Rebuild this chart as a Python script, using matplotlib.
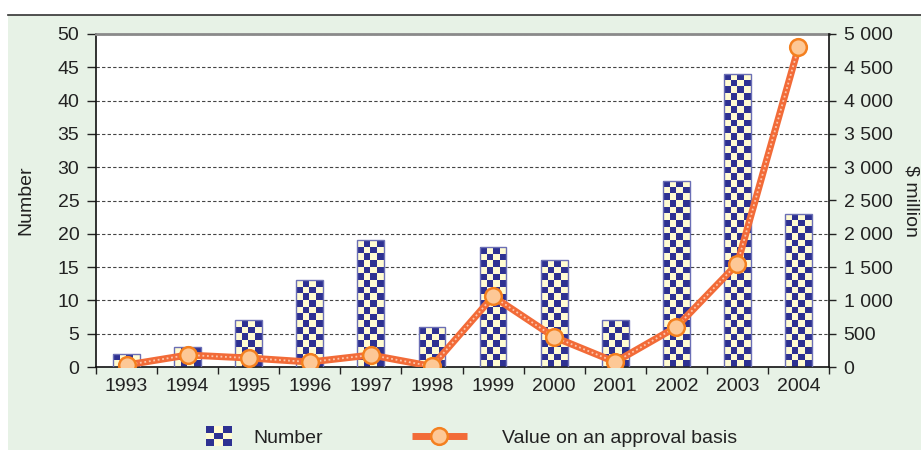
import numpy as np
import matplotlib
matplotlib.use("Agg")
import matplotlib.pyplot as plt
import matplotlib.patches as mpatches
from matplotlib.colors import ListedColormap
from matplotlib.lines import Line2D
from matplotlib.legend_handler import HandlerBase
from matplotlib.ticker import FuncFormatter

plt.rcParams['font.family'] = ['Liberation Sans', 'DejaVu Sans']

years = ['1993', '1994', '1995', '1996', '1997', '1998', '1999', '2000',
         '2001', '2002', '2003', '2004']
number = [2, 3, 7, 13, 19, 6, 18, 16, 7, 28, 44, 23]
value = [30, 180, 135, 75, 180, 10, 1060, 450, 75, 600, 1550, 4800]

NAVY = '#2e3192'
CREAM = '#fffbd2'
GREEN = '#e7f2e6'
ORANGE = '#f26b38'
TXT = '#222222'
FS = 14
PX = 0.72  # points per pixel at dpi 100
checker_cmap = ListedColormap([CREAM, NAVY])


class HandlerChecker(HandlerBase):
    # small 3x3 checkerboard swatch for the bars
    def create_artists(self, legend, orig_handle, xdescent, ydescent,
                       width, height, fontsize, trans):
        n = 3
        cw, ch = 26 * PX / n, 20 * PX / n
        x0 = -xdescent + 42 * PX
        y0 = height / 2 - ch * n / 2 - ydescent
        arts = []
        for i in range(n):
            for j in range(n):
                c = NAVY if (i + j) % 2 == 0 else CREAM
                arts.append(mpatches.Rectangle((x0 + i * cw, y0 + j * ch), cw, ch,
                                               facecolor=c, edgecolor='none',
                                               transform=trans))
        return arts


fig = plt.figure(figsize=(9.21, 4.5), dpi=100)
fig.patches.append(mpatches.Rectangle((8 / 921, 0), 1, (450 - 15) / 450,
                                      transform=fig.transFigure,
                                      facecolor=GREEN, edgecolor='none', zorder=-10))
fig.lines.append(Line2D([8 / 921, 1], [(450 - 15) / 450] * 2,
                        transform=fig.transFigure, color='#333333', lw=1.2, zorder=-9))

ax = fig.add_axes([96 / 921, 83 / 450, (829 - 96) / 921, (367 - 34) / 450])
ax.set_facecolor('white')
x = np.arange(len(years))
bars = ax.bar(x, number, width=0.44, color='none', edgecolor='#6b6fb5',
              linewidth=1.0, zorder=3)

# checkerboard fill inside each bar
for b in bars:
    rows = int(np.ceil(b.get_height()))
    cols = 4
    grid = (np.add.outer(np.arange(rows), np.arange(cols)) % 2)[::-1]
    im = ax.imshow(grid, cmap=checker_cmap, interpolation='nearest', aspect='auto',
                   extent=(b.get_x(), b.get_x() + b.get_width(), 0, rows),
                   zorder=2)
    im.set_clip_path(b)

ax.set_xlim(-0.5, len(years) - 0.5)
ax.set_ylim(0, 50)
ax.set_yticks(range(0, 51, 5))
ax.set_xticks(x)
ax.set_xticklabels(years)
ax.set_xticks(np.arange(-0.5, len(years)), minor=True)
ax.tick_params(axis='x', which='major', length=0, pad=8, labelsize=FS, colors=TXT)
ax.tick_params(axis='x', which='minor', length=5, width=1, color=TXT)
ax.tick_params(axis='y', length=6.5, width=1, labelsize=FS, pad=5.5, colors=TXT)
ax.yaxis.grid(True, linestyle=(0, (3, 2)), color='#444444', lw=0.8, zorder=1)
ax.set_axisbelow(True)
for s in ['left', 'bottom']:
    ax.spines[s].set_color('#111111')
    ax.spines[s].set_linewidth(1.2)
ax.spines['top'].set_color('#8a8a8a')
ax.spines['top'].set_linewidth(2)
ax.spines['right'].set_visible(False)
ax.set_ylabel('Number', fontsize=FS, color=TXT)
ax.yaxis.set_label_coords((34 - 96) / 733, 0.5)

ax2 = ax.twinx()
ax2.set_ylim(0, 5000)
ax2.set_yticks(range(0, 5001, 500))
ax2.yaxis.set_major_formatter(FuncFormatter(lambda v, p: f'{int(v):,}'.replace(',', ' ')))
ax2.tick_params(axis='y', length=5, width=1, labelsize=FS, pad=5.5, colors=TXT)
for s in ['left', 'bottom', 'top']:
    ax2.spines[s].set_visible(False)
ax2.spines['right'].set_color('#111111')
ax2.spines['right'].set_linewidth(1.2)
ax2.plot(x, value, color=ORANGE, lw=5, solid_capstyle='round', zorder=3)
ax2.plot(x, value, color='#fcc7ad', lw=1.3, linestyle=(0, (1, 1.5)), zorder=4)
ax2.plot(x, value, linestyle='none', marker='o', markersize=12,
         markerfacecolor='#fdc896', markeredgecolor='#f4801f', markeredgewidth=1.8,
         zorder=5)
ax2.set_ylabel('$ million', fontsize=FS, rotation=270, color=TXT)
ax2.yaxis.label.set_va('top')
ax2.yaxis.set_label_coords((919 - 96) / 733, 0.5)

bar_handle = mpatches.Patch()
line_handle = Line2D([], [], color=ORANGE, lw=5, marker='o', markersize=12,
                     markerfacecolor='#fdc896', markeredgecolor='#f4801f',
                     markeredgewidth=1.8, solid_capstyle='butt')
fig.legend([bar_handle, line_handle], ['Number', 'Value on an approval basis'],
           handler_map={bar_handle: HandlerChecker()},
           loc='center left', bbox_to_anchor=(154 / 921, 12 / 450), ncol=2,
           frameon=False, borderpad=0, fontsize=FS, handlelength=2.8,
           handletextpad=1.8, columnspacing=4.6, labelcolor=TXT)

fig.savefig('out.png', dpi=100)
